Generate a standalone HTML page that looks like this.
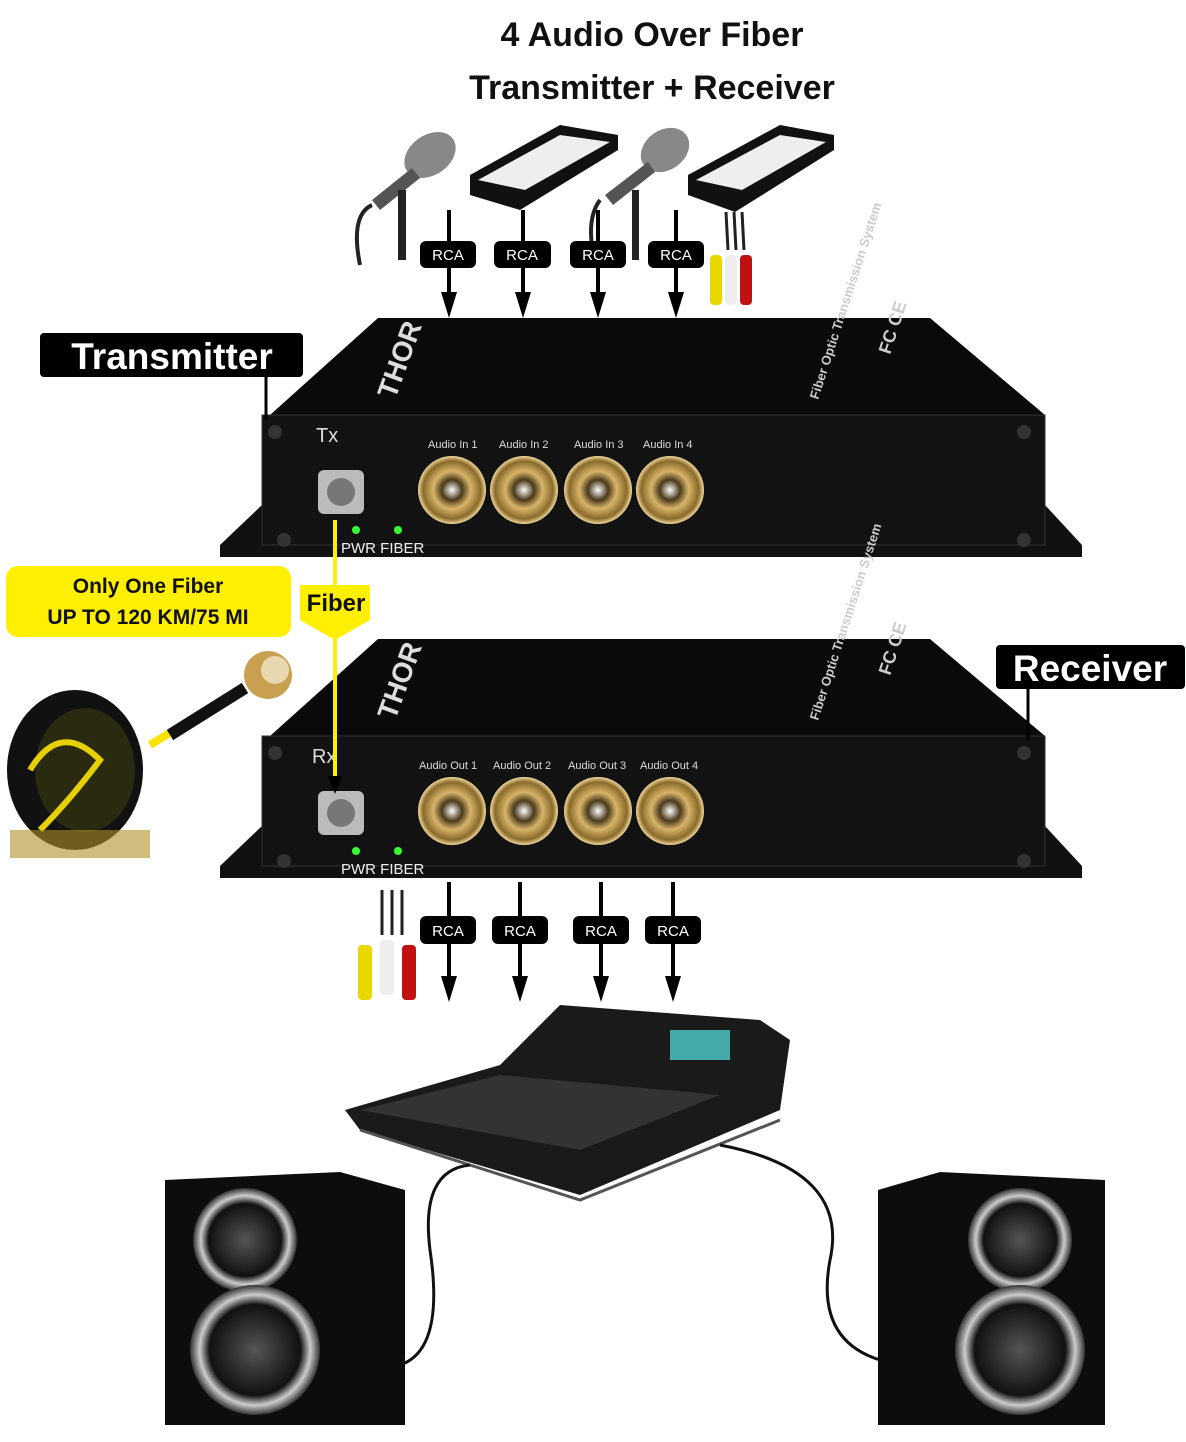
<!DOCTYPE html>
<html><head><meta charset="utf-8">
<style>
html,body{margin:0;padding:0;background:#fff;}
svg{display:block;}
text{font-family:"Liberation Sans",sans-serif;}
</style></head><body>
<svg width="1186" height="1442" viewBox="0 0 1186 1442" xmlns="http://www.w3.org/2000/svg">
<defs>
<radialGradient id="gold" cx="50%" cy="50%" r="50%"><stop offset="0" stop-color="#fff"/><stop offset="0.3" stop-color="#4a3a1a"/><stop offset="0.55" stop-color="#d8b46a"/><stop offset="0.85" stop-color="#8a6a2a"/><stop offset="1" stop-color="#f0d89a"/></radialGradient>
<radialGradient id="spk" cx="50%" cy="50%" r="50%"><stop offset="0" stop-color="#555"/><stop offset="0.7" stop-color="#111"/><stop offset="0.85" stop-color="#ccc"/><stop offset="1" stop-color="#333"/></radialGradient>
</defs>
<text x="652" y="46" font-size="34" font-weight="bold" text-anchor="middle" fill="#111">4 Audio Over Fiber</text>
<text x="652" y="99" font-size="34" font-weight="bold" text-anchor="middle" fill="#111">Transmitter + Receiver</text>

<g fill="#333">
<ellipse cx="430" cy="155" rx="28" ry="20" fill="#888" transform="rotate(-35 430 155)"/>
<path d="M412 168 L372 200 L380 210 L420 178z" fill="#555"/>
<path d="M372 205 Q350 215 360 265" stroke="#222" stroke-width="4" fill="none"/>
<rect x="398" y="190" width="8" height="70" fill="#222"/>
<path d="M470 175 L560 125 L618 135 L618 150 L520 210 L470 195z" fill="#111"/>
<path d="M478 180 L560 135 L610 142 L525 190z" fill="#eee"/>
<ellipse cx="665" cy="150" rx="26" ry="20" fill="#888" transform="rotate(-35 665 150)"/>
<path d="M648 162 L605 195 L613 205 L655 172z" fill="#555"/>
<path d="M600 200 Q585 220 595 262" stroke="#222" stroke-width="4" fill="none"/>
<rect x="632" y="190" width="7" height="70" fill="#222"/>
<path d="M688 175 L780 125 L834 135 L834 150 L735 212 L688 195z" fill="#111"/>
<path d="M696 180 L780 135 L826 142 L742 190z" fill="#eee"/>
<path d="M726 212 L728 250 M734 212 L736 250 M742 212 L744 250" stroke="#222" stroke-width="3"/>
<rect x="710" y="255" width="12" height="50" rx="4" fill="#e8d800"/>
<rect x="725" y="255" width="12" height="50" rx="4" fill="#eee"/>
<rect x="740" y="255" width="12" height="50" rx="4" fill="#c01010"/>
</g>

<g stroke="#000" stroke-width="4">
<line x1="449" y1="210" x2="449" y2="296"/><line x1="523" y1="210" x2="523" y2="296"/>
<line x1="598" y1="210" x2="598" y2="296"/><line x1="676" y1="210" x2="676" y2="296"/>
</g>
<g fill="#000">
<path d="M441 292 L457 292 L449 318z"/><path d="M515 292 L531 292 L523 318z"/>
<path d="M590 292 L606 292 L598 318z"/><path d="M668 292 L684 292 L676 318z"/>
</g>
<g font-size="15" fill="#fff" text-anchor="middle">
<rect x="420" y="241" width="56" height="27" rx="6" fill="#000"/><text x="448" y="260">RCA</text>
<rect x="494" y="241" width="57" height="27" rx="6" fill="#000"/><text x="522" y="260">RCA</text>
<rect x="570" y="241" width="56" height="27" rx="6" fill="#000"/><text x="598" y="260">RCA</text>
<rect x="648" y="241" width="56" height="27" rx="6" fill="#000"/><text x="676" y="260">RCA</text>
</g>

<g>
<path d="M220 545 L262 505 L1045 505 L1082 545 L1082 557 L220 557z" fill="#111"/>
<path d="M378 318 L930 318 L1045 415 L270 415z" fill="#0a0a0a"/>
<rect x="262" y="415" width="783" height="130" fill="#121212" stroke="#333"/>
<text x="316" y="442" font-size="20" fill="#ddd">Tx</text>
<g font-size="11" fill="#ddd"><text x="428" y="448">Audio In 1</text><text x="499" y="448">Audio In 2</text><text x="574" y="448">Audio In 3</text><text x="643" y="448">Audio In 4</text></g>
<circle cx="452" cy="490" r="34" fill="url(#gold)"/><circle cx="524" cy="490" r="34" fill="url(#gold)"/><circle cx="598" cy="490" r="34" fill="url(#gold)"/><circle cx="670" cy="490" r="34" fill="url(#gold)"/>
<rect x="318" y="470" width="46" height="44" rx="6" fill="#bbb"/><circle cx="341" cy="492" r="14" fill="#777"/>
<circle cx="356" cy="530" r="4" fill="#3f3"/><circle cx="398" cy="530" r="4" fill="#3f3"/>
<text x="341" y="553" font-size="15" fill="#eee">PWR FIBER</text>
<text font-size="28" font-weight="bold" fill="#ddd" transform="translate(395,400) rotate(-70)">THOR</text>
<text font-size="13" font-weight="bold" fill="#ccc" transform="translate(818,400) rotate(-72)">Fiber Optic Transmission System</text>
<text font-size="18" font-weight="bold" fill="#ccc" transform="translate(890,355) rotate(-72)">FC CE</text>
<circle cx="275" cy="432" r="7" fill="#333"/><circle cx="1024" cy="432" r="7" fill="#333"/><circle cx="284" cy="540" r="7" fill="#333"/><circle cx="1024" cy="540" r="7" fill="#333"/>
</g>
<g transform="translate(0,321)">
<path d="M220 545 L262 505 L1045 505 L1082 545 L1082 557 L220 557z" fill="#111"/>
<path d="M378 318 L930 318 L1045 415 L270 415z" fill="#0a0a0a"/>
<rect x="262" y="415" width="783" height="130" fill="#121212" stroke="#333"/>
<text x="312" y="442" font-size="20" fill="#ddd">Rx</text>
<g font-size="11" fill="#ddd"><text x="419" y="448">Audio Out 1</text><text x="493" y="448">Audio Out 2</text><text x="568" y="448">Audio Out 3</text><text x="640" y="448">Audio Out 4</text></g>
<circle cx="452" cy="490" r="34" fill="url(#gold)"/><circle cx="524" cy="490" r="34" fill="url(#gold)"/><circle cx="598" cy="490" r="34" fill="url(#gold)"/><circle cx="670" cy="490" r="34" fill="url(#gold)"/>
<rect x="318" y="470" width="46" height="44" rx="6" fill="#bbb"/><circle cx="341" cy="492" r="14" fill="#777"/>
<circle cx="356" cy="530" r="4" fill="#3f3"/><circle cx="398" cy="530" r="4" fill="#3f3"/>
<text x="341" y="553" font-size="15" fill="#eee">PWR FIBER</text>
<text font-size="28" font-weight="bold" fill="#ddd" transform="translate(395,400) rotate(-70)">THOR</text>
<text font-size="13" font-weight="bold" fill="#ccc" transform="translate(818,400) rotate(-72)">Fiber Optic Transmission System</text>
<text font-size="18" font-weight="bold" fill="#ccc" transform="translate(890,355) rotate(-72)">FC CE</text>
<circle cx="275" cy="432" r="7" fill="#333"/><circle cx="1024" cy="432" r="7" fill="#333"/><circle cx="284" cy="540" r="7" fill="#333"/><circle cx="1024" cy="540" r="7" fill="#333"/>
</g>

<line x1="266" y1="377" x2="266" y2="420" stroke="#000" stroke-width="3"/>
<rect x="40" y="333" width="263" height="44" rx="4" fill="#000"/>
<text x="172" y="369" font-size="37" font-weight="bold" fill="#fff" text-anchor="middle">Transmitter</text>
<line x1="1028" y1="689" x2="1028" y2="740" stroke="#000" stroke-width="3"/>
<rect x="996" y="645" width="189" height="44" rx="4" fill="#000"/>
<text x="1090" y="681" font-size="37" font-weight="bold" fill="#fff" text-anchor="middle">Receiver</text>

<line x1="335" y1="520" x2="335" y2="785" stroke="#ffef00" stroke-width="4"/>
<path d="M328 776 L335 794 L342 776z" fill="#000"/>
<rect x="6" y="566" width="285" height="71" rx="12" fill="#ffef00"/>
<text x="148" y="593" font-size="21" font-weight="bold" text-anchor="middle" fill="#111">Only One Fiber</text>
<text x="148" y="624" font-size="21" font-weight="bold" text-anchor="middle" fill="#111">UP TO 120 KM/75 MI</text>
<path d="M300 585 L370 585 L370 620 L335 640 L300 620z" fill="#ffef00"/>
<text x="336" y="611" font-size="24" font-weight="bold" text-anchor="middle" fill="#111">Fiber</text>

<ellipse cx="75" cy="770" rx="68" ry="80" fill="#111"/>
<ellipse cx="85" cy="770" rx="50" ry="62" fill="#2a2a10"/>
<path d="M30 770 Q60 720 100 760 Q70 800 40 830" stroke="#e8d000" stroke-width="6" fill="none"/>
<path d="M150 745 L240 690" stroke="#ffe000" stroke-width="8"/>
<path d="M170 735 L245 688" stroke="#111" stroke-width="12"/>
<circle cx="268" cy="675" r="24" fill="#c8a050"/><circle cx="275" cy="670" r="14" fill="#e8d8b0"/>
<rect x="10" y="830" width="140" height="28" fill="#b0902a" opacity="0.6"/>

<path d="M382 890 L382 935 M392 890 L392 935 M402 890 L402 935" stroke="#222" stroke-width="3"/>
<rect x="358" y="945" width="14" height="55" rx="4" fill="#e8d800"/>
<rect x="380" y="940" width="14" height="55" rx="4" fill="#eee"/>
<rect x="402" y="945" width="14" height="55" rx="4" fill="#c01010"/>
<g stroke="#000" stroke-width="4">
<line x1="449" y1="882" x2="449" y2="980"/><line x1="520" y1="882" x2="520" y2="980"/>
<line x1="601" y1="882" x2="601" y2="980"/><line x1="673" y1="882" x2="673" y2="980"/>
</g>
<g fill="#000">
<path d="M441 976 L457 976 L449 1002z"/><path d="M512 976 L528 976 L520 1002z"/>
<path d="M593 976 L609 976 L601 1002z"/><path d="M665 976 L681 976 L673 1002z"/>
</g>
<g font-size="15" fill="#fff" text-anchor="middle">
<rect x="420" y="916" width="56" height="28" rx="6" fill="#000"/><text x="448" y="936">RCA</text>
<rect x="492" y="916" width="56" height="28" rx="6" fill="#000"/><text x="520" y="936">RCA</text>
<rect x="573" y="916" width="56" height="28" rx="6" fill="#000"/><text x="601" y="936">RCA</text>
<rect x="645" y="916" width="56" height="28" rx="6" fill="#000"/><text x="673" y="936">RCA</text>
</g>

<path d="M345 1110 L500 1065 L560 1005 L760 1020 L790 1040 L780 1110 L580 1195 L360 1130z" fill="#1a1a1a"/>
<path d="M360 1110 L500 1075 L720 1095 L580 1150z" fill="#333"/>
<rect x="670" y="1030" width="60" height="30" fill="#4aa"/>
<path d="M360 1130 L580 1200 L780 1120" stroke="#555" stroke-width="3" fill="none"/>

<path d="M470 1165 Q420 1170 430 1250 Q445 1350 400 1365" stroke="#111" stroke-width="3" fill="none"/>
<path d="M720 1145 Q850 1170 830 1260 Q815 1340 880 1360" stroke="#111" stroke-width="3" fill="none"/>

<path d="M165 1180 L340 1172 L405 1190 L405 1425 L165 1425z" fill="#0d0d0d"/>
<circle cx="245" cy="1240" r="52" fill="url(#spk)"/>
<circle cx="255" cy="1350" r="65" fill="url(#spk)"/>
<path d="M878 1190 L940 1172 L1105 1180 L1105 1425 L878 1425z" fill="#0d0d0d"/>
<circle cx="1020" cy="1240" r="52" fill="url(#spk)"/>
<circle cx="1020" cy="1350" r="65" fill="url(#spk)"/>
</svg>
</body></html>
